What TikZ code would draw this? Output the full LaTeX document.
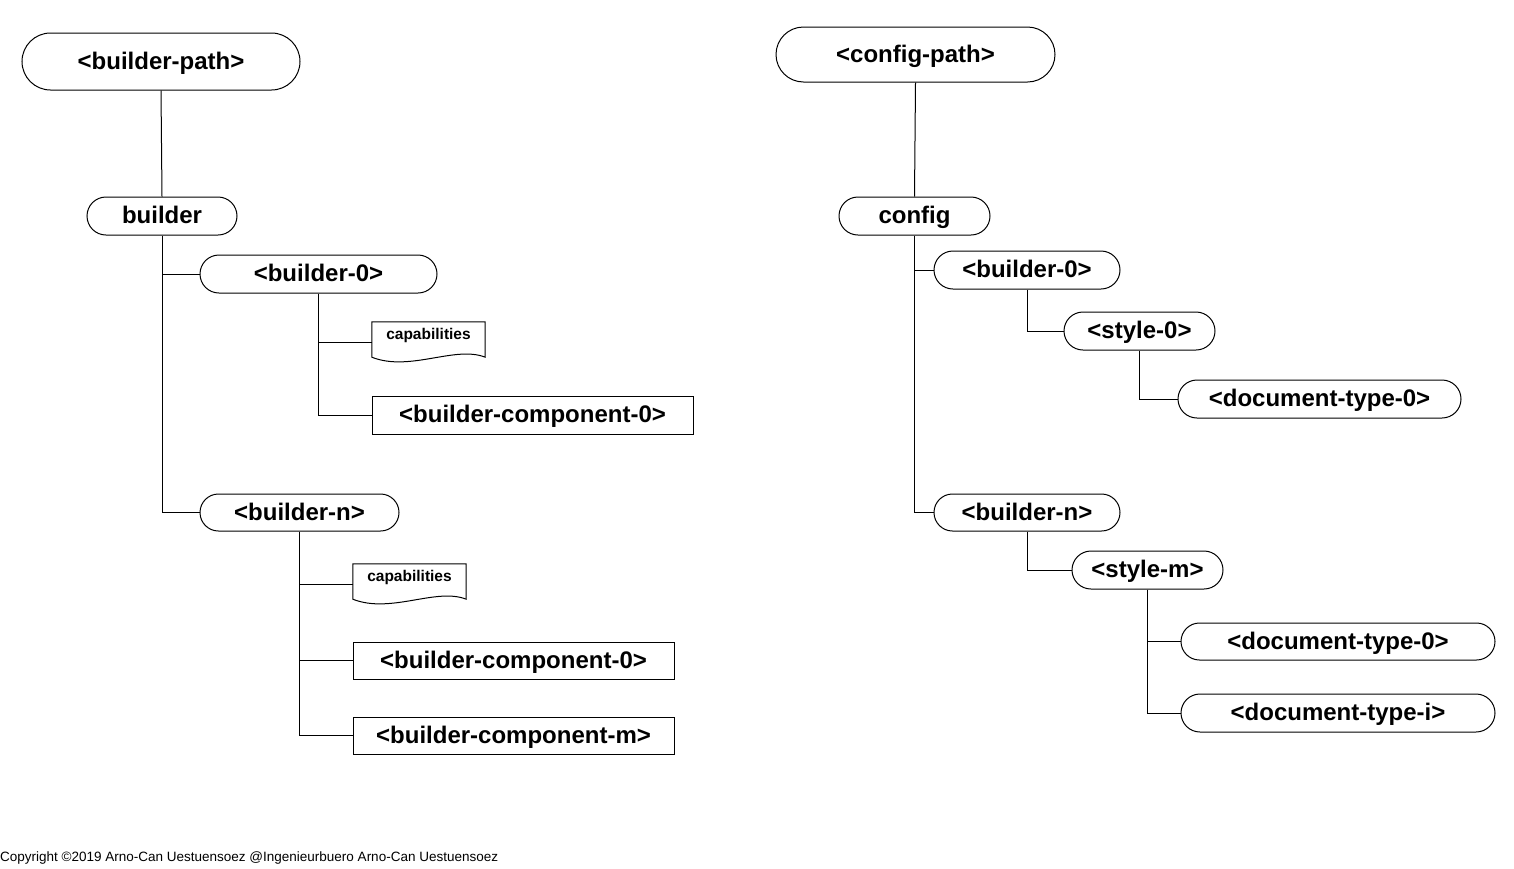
\documentclass[tikz,border=0pt]{standalone}
\usepackage{fontspec}
\setmainfont{Liberation Sans}
\usetikzlibrary{shapes.misc}
\tikzset{
  pill/.style={rounded rectangle, draw, line width=1pt, inner sep=0pt,
    text height=17pt, text depth=2pt,
    font=\bfseries\fontsize{24}{28}\selectfont},
  boxnode/.style={rectangle, draw, line width=1pt, inner sep=0pt,
    text height=17pt, text depth=2pt,
    font=\bfseries\fontsize{24}{28}\selectfont},
  docnode/.style={rectangle, inner sep=0pt, minimum width=113pt, minimum height=40pt},
  doctext/.style={inner sep=0pt, text height=11pt, text depth=3.5pt,
    font=\bfseries\fontsize{15.5}{18}\selectfont},
  link/.style={line width=1pt},
}
\begin{document}
\begin{tikzpicture}[x=1pt,y=-1pt]
\useasboundingbox (0,0) rectangle (1514,868);

% ---- left tree ----
\node[pill, minimum width=278pt, minimum height=57pt] (bp) at (161,61.5) {<builder-path>};
\node[pill, minimum width=150pt, minimum height=38pt] (b) at (162,216) {builder};
\node[pill, minimum width=237pt, minimum height=38pt] (b0) at (318.5,274) {<builder-0>};
\node[docnode] (cap1) at (428.5,342) {};
\node[doctext] (cap1t) at (428.5,335.5) {capabilities};
\node[boxnode, minimum width=321pt, minimum height=38pt] (bc0) at (532.5,415) {<builder-component-0>};
\node[pill, minimum width=199pt, minimum height=37pt] (bn) at (299.5,512.5) {<builder-n>};
\node[docnode] (cap2) at (409.5,584) {};
\node[doctext] (cap2t) at (409.5,577.5) {capabilities};
\node[boxnode, minimum width=321pt, minimum height=37pt] (bcn0) at (513.5,660.5) {<builder-component-0>};
\node[boxnode, minimum width=321pt, minimum height=37pt] (bcm) at (513.5,735.5) {<builder-component-m>};

\foreach \c in {cap1,cap2}{
  \draw[link] (\c.north west) -- (\c.north east) -- ([yshift=5pt]\c.south east)
    .. controls ([xshift=-30pt,yshift=17pt]\c.south east) and ([xshift=38pt,yshift=-10pt]\c.south west)
    .. ([yshift=5pt]\c.south west) -- cycle;
}

\draw[link] (bp.south) -- (b.north);
\draw[link] (b.south) |- (b0.west);
\draw[link] (b.south) |- (bn.west);
\draw[link] (b0.south) |- (cap1.west);
\draw[link] (b0.south) |- (bc0.west);
\draw[link] (bn.south) |- (cap2.west);
\draw[link] (bn.south) |- (bcn0.west);
\draw[link] (bn.south) |- (bcm.west);

% ---- right tree ----
\node[pill, minimum width=279pt, minimum height=55pt] (cp) at (915.5,54.5) {<config-path>};
\node[pill, minimum width=151pt, minimum height=38pt] (cf) at (914.5,216) {config};
\node[pill, minimum width=186pt, minimum height=38pt] (rb0) at (1027,270) {<builder-0>};
\node[pill, minimum width=151pt, minimum height=38pt] (s0) at (1139.5,331) {<style-0>};
\node[pill, minimum width=283pt, minimum height=38pt] (dt0) at (1319.5,399) {<document-type-0>};
\node[pill, minimum width=186pt, minimum height=37pt] (rbn) at (1027,512.5) {<builder-n>};
\node[pill, minimum width=151pt, minimum height=38pt] (sm) at (1147.5,570) {<style-m>};
\node[pill, minimum width=314pt, minimum height=37pt] (dt0b) at (1338,641.5) {<document-type-0>};
\node[pill, minimum width=314pt, minimum height=38pt] (dti) at (1338,713) {<document-type-i>};

\draw[link] (cp.south) -- (cf.north);
\draw[link] (cf.south) |- (rb0.west);
\draw[link] (cf.south) |- (rbn.west);
\draw[link] (rb0.south) |- (s0.west);
\draw[link] (s0.south) |- (dt0.west);
\draw[link] (rbn.south) |- (sm.west);
\draw[link] (sm.south) |- (dt0b.west);
\draw[link] (sm.south) |- (dti.west);

% ---- footer ----
\node[anchor=west, inner sep=0pt, font=\fontsize{13.5}{16}\selectfont] (copy) at (0,858)
  {Copyright ©2019 Arno-Can Uestuensoez @Ingenieurbuero Arno-Can Uestuensoez};
\end{tikzpicture}
\end{document}
